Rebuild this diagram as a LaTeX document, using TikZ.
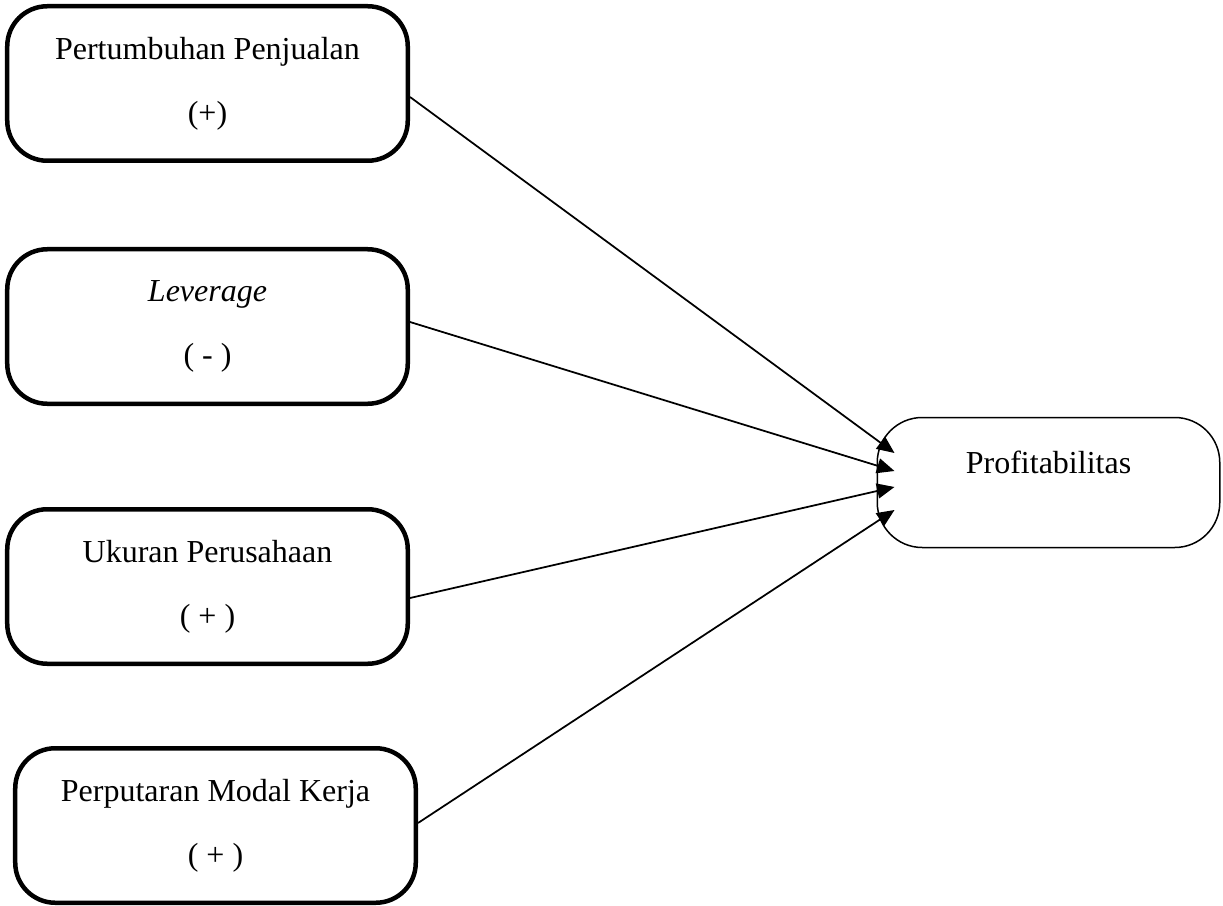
\documentclass[tikz,border=0pt]{standalone}
\usepackage{fontspec}
\setmainfont{Liberation Serif}
\usetikzlibrary{arrows.meta}

\begin{document}
\begin{tikzpicture}[x=0.4pt,y=-0.4pt,
	varbox/.style={draw,line width=1.8pt,rounded corners=16pt,minimum width=160.2pt,minimum height=61.8pt,
		align=center,font=\fontsize{12.8}{25.5}\selectfont},
	outbox/.style={draw,line width=0.6pt,rounded corners=18pt,minimum width=137pt,minimum height=52pt},
	arr/.style={line width=0.7pt,-{Triangle[length=7pt,width=6pt]}}]
\useasboundingbox (0,0) rectangle (1223,905);
\node[varbox] (pp) at (207.5,83.5) {Pertumbuhan Penjualan\\(+)};
\node[varbox] (lev) at (207.5,326.5) {\textit{Leverage}\\( - )};
\node[varbox] (uk) at (207.5,586.5) {Ukuran Perusahaan\\( + )};
\node[varbox] (pmk) at (215.5,825.5) {Perputaran Modal Kerja\\( + )};
%
\node[outbox] (prof) at (1048.5,482.5) {};
\node[font=\fontsize{12.8}{14}\selectfont] (proftext) at ([yshift=8pt]prof.center) {Profitabilitas};
%
\draw[arr] ([yshift=-5.4pt]pp.east) -- ([xshift=7.2pt,yshift=11.8pt]prof.west);
\draw[arr] ([yshift=1.8pt]lev.east) -- ([xshift=7.2pt,yshift=4.6pt]prof.west);
\draw[arr] ([yshift=-4.6pt]uk.east) -- ([xshift=7.2pt,yshift=-1.8pt]prof.west);
\draw[arr] ([yshift=1pt]pmk.east) -- ([xshift=7.2pt,yshift=-11pt]prof.west);
\end{tikzpicture}
\end{document}
